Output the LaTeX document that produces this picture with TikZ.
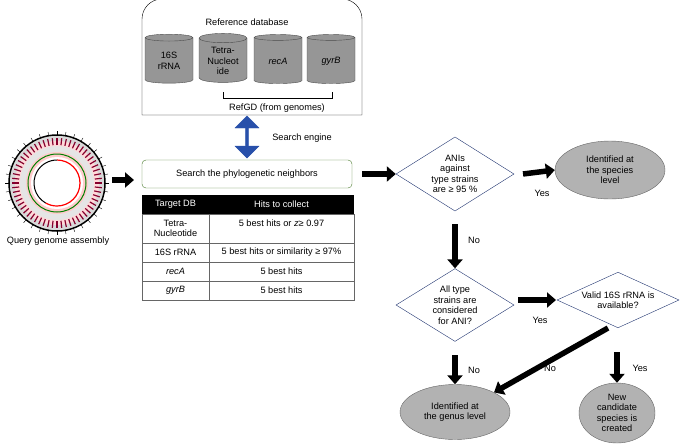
\documentclass[tikz,border=0pt]{standalone}
\usepackage{fontspec}
\setmainfont{Liberation Sans}
\usetikzlibrary{positioning,arrows.meta,shapes.geometric,shapes.arrows,calc}
\definecolor{cylgray}{RGB}{150,150,150}
\definecolor{boxgreen}{RGB}{70,120,40}
\definecolor{engblue}{RGB}{40,80,170}
\definecolor{diamblue}{RGB}{30,50,110}

\begin{document}
\begin{tikzpicture}[
x=1pt,y=-1pt,
font=\fontsize{9.2}{10.5}\selectfont,
db/.style={
	cylinder,
	shape border rotate=90,
	aspect=0.28,
	draw=black!70,
	fill=cylgray,
	minimum width=48pt,
	minimum height=49pt,
	align=center,
	inner sep=1pt
},
bigarrow/.style={
	-{Triangle[length=9pt,width=15pt]},
	line width=5.5pt
},
decision/.style={
	diamond,
	draw=diamblue,
	aspect=1.3,
	align=center,
	inner sep=0pt
},
result/.style={
	ellipse,
	draw=black!60,
	fill=black!30,
	align=center,
	inner sep=1pt
},
cell/.style={
	draw=black!60,
	minimum height=19pt,
	align=center,
	inner sep=1pt
}
]
\useasboundingbox (0,0) rectangle (690,445);

% reference database
\draw (142,115) {[rounded corners=20pt] -- (142,-1) -- (362,-1)} -- (362,115) -- cycle;
\node (refdb) at (247,22) {Reference database};
\node[db] (c16s) at (169,61) {16S\\rRNA};
\node[db] (ctetra) at (223,61) {Tetra-\\Nucleot\\ide};
\node[db] (creca) at (278,61) {\itshape recA};
\node[db] (cgyrb) at (331,61) {\itshape gyrB};
\draw (223,92) -- (223,98) -- (332,98) -- (332,92);
\node (refgd) at (277,108) {RefGD (from genomes)};

% search engine
\node[single arrow,double arrow,draw=engblue,fill=engblue,rotate=90,
	minimum height=42pt,minimum width=24pt,single arrow head extend=5pt,
	inner sep=1pt] (engine) at (247,137) {};
\node (englabel) at (302,138) {Search engine};
\node[draw=boxgreen,rounded corners=4pt,minimum width=210pt,minimum height=28pt]
	(search) at (247,174) {Search the phylogenetic neighbors};

% table
\node[fill=black,text=white,minimum width=67pt,minimum height=19pt] (h1) at (175.5,204.5) {Target DB};
\node[fill=black,text=white,minimum width=145pt,minimum height=19pt] (h2) at (281.5,204.5) {Hits to collect};
\node[cell,minimum width=67pt,minimum height=29pt] (t1) at (175.5,228.5) {Tetra-\\Nucleotide};
\node[cell,minimum width=145pt,minimum height=29pt,anchor=north,text depth=11pt] (t2) at (281.5,214) {5 best hits or \textit{z}≥ 0.97};
\node[cell,minimum width=67pt] (r1) at (175.5,252.5) {16S rRNA};
\node[cell,minimum width=145pt] (r2) at (281.5,252.5) {5 best hits or similarity ≥ 97\%};
\node[cell,minimum width=67pt] (a1) at (175.5,271.5) {\itshape recA};
\node[cell,minimum width=145pt] (a2) at (281.5,271.5) {5 best hits};
\node[cell,minimum width=67pt] (g1) at (175.5,290.5) {\itshape gyrB};
\node[cell,minimum width=145pt] (g2) at (281.5,290.5) {5 best hits};

% query genome
\coordinate (genome) at (57,183);
\foreach \r/\c in {47/black!15,42/pink!60,37/black!10,31/red!20,26/white}
	\fill[\c] (genome) circle (\r);
\foreach \a in {0,6,...,354}
	\draw[purple!70!black,line width=1.2pt] ($(genome)+(\a:38)$) -- ($(genome)+(\a:45)$);
\draw[line width=1.5pt] (genome) circle (48);
\foreach \a in {0,10,...,350}
	\draw ($(genome)+(\a:48)$) -- ($(genome)+(\a:52)$);
\draw[green!50!black,line width=1pt] (genome) circle (29);
\draw[red,line width=1.2pt] ($(genome)+(-90:23)$) arc[start angle=-90,end angle=120,radius=23];
\draw[black,line width=1pt] ($(genome)+(120:23)$) arc[start angle=120,end angle=270,radius=23];
\node[minimum size=104pt,circle,inner sep=0pt] (query) at (genome) {};
\node (qlabel) at (58,241) {Query genome assembly};

% decisions
\node[decision,minimum width=118pt] (d1) at (455,174) {ANIs\\against\\type strains\\are ≥ 95 \%};
\node[decision,minimum width=118pt] (d2) at (455,305) {All type\\strains are\\considered\\for ANI?};
\node[decision,aspect=1.9,minimum width=122pt] (d3) at (618,300) {Valid 16S rRNA is\\available?};
\node[result,minimum width=110pt,minimum height=58pt] (species) at (610,170) {Identified at\\the species\\level};
\node[result,minimum width=110pt,minimum height=55pt] (genus) at (455,412) {Identified at\\the genus level};
\node[result,minimum width=76pt,minimum height=60pt] (newsp) at (617,413) {New\\candidate\\species is\\created};

% arrow ends
\coordinate (qa) at (112,180);
\coordinate (qb) at (134,180);
\coordinate (sa) at (362,174);
\coordinate (da) at (523,174);
\coordinate (d2a) at (518,300);
\coordinate (d2b) at (556,300);
\coordinate (d1s) at (455,224);
\coordinate (d2s) at (455,355);
\coordinate (d3s) at (617,352);
\coordinate (d3d) at (608,328);

% arrows
\draw[bigarrow] (qa) -- (qb);
\draw[bigarrow] (sa) -- (d1.west);
\draw[bigarrow] (da) -- (species.west);
\node (y1) at (542,193) {Yes};
\draw[bigarrow] (d1s) -- (d2.north);
\node (n1) at (474,240) {No};
\draw[bigarrow] (d2a) -- (d2b);
\node (y2) at (540,320) {Yes};
\draw[bigarrow] (d2s) -- (genus.north);
\node (n2) at (474,370) {No};
\draw[bigarrow] (d3s) -- (newsp.north);
\node (y3) at (640,368) {Yes};
\draw[bigarrow] (d3d) -- (genus.north east);
\node (n3) at (550,368) {No};
\end{tikzpicture}
\end{document}
